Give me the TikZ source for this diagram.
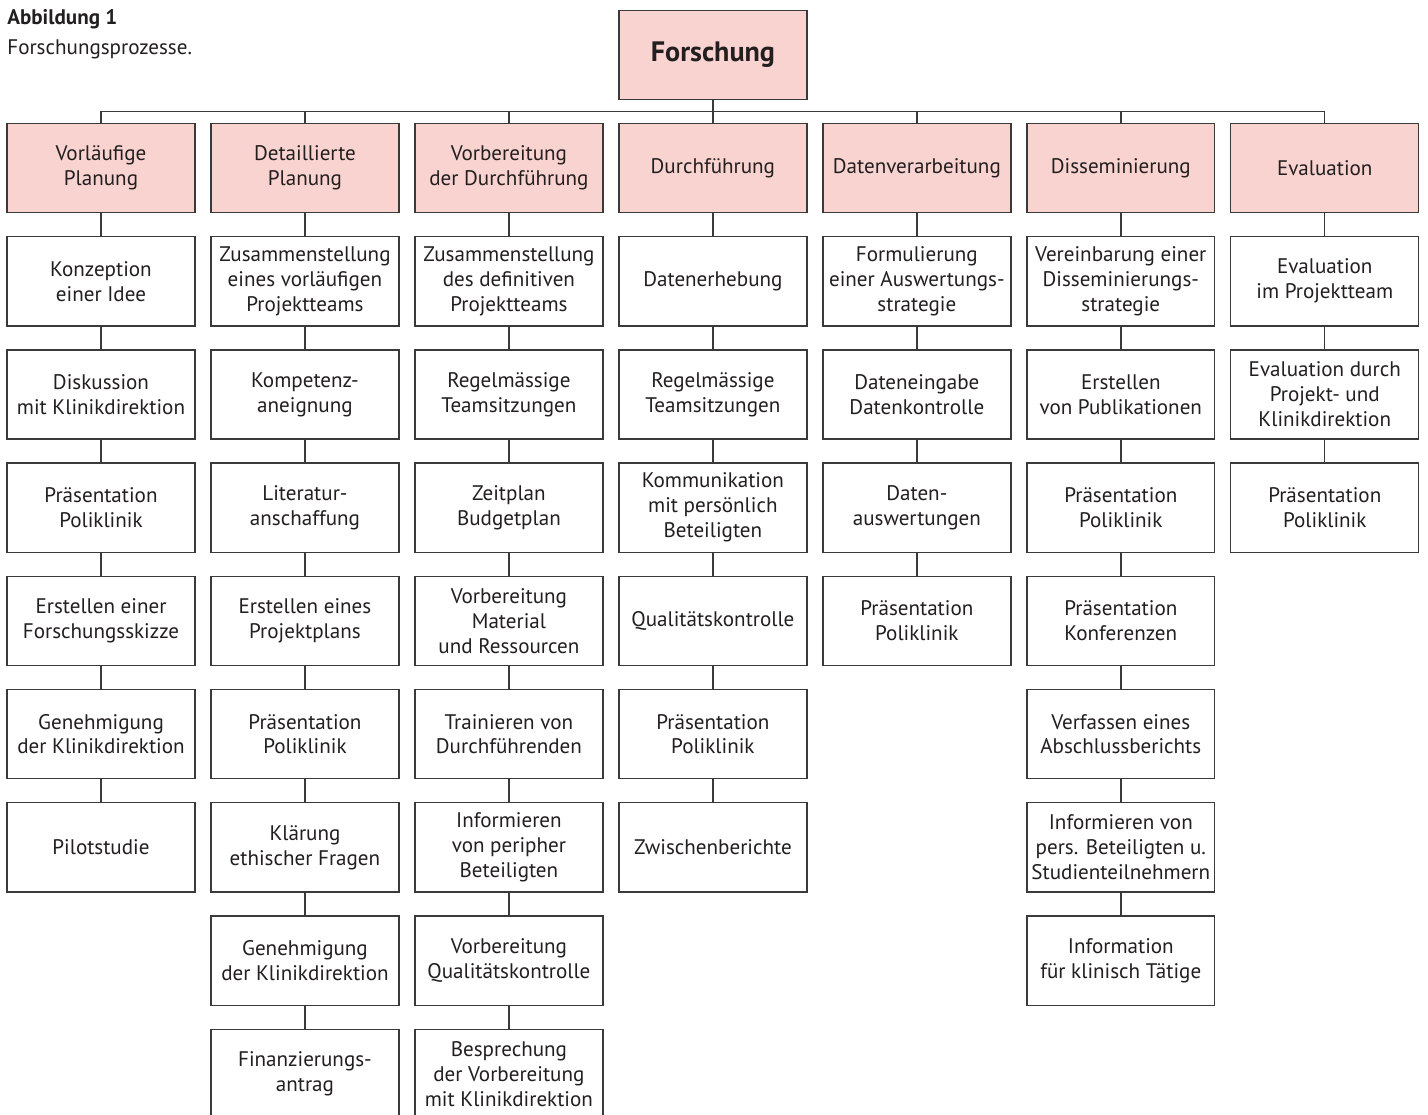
\documentclass[tikz,border=0pt]{standalone}
\usepackage{fontspec}
\setmainfont{PT Sans}
\usetikzlibrary{positioning}

\definecolor{rosa}{HTML}{F9D3D0}
\definecolor{strich}{HTML}{3A3A3A}
\definecolor{schrift}{HTML}{231F20}

\tikzset{
  stufe/.style={draw=strich, line width=0.8pt, fill=rosa, text=schrift,
    minimum width=3.76cm, minimum height=1.785cm, inner sep=2pt, outer sep=0pt,
    align=center, font=\fontsize{12}{14.2}\selectfont},
  schritt/.style={stufe, fill=white},
  ast/.style={draw=strich, line width=0.8pt}
}

\begin{document}
\begin{tikzpicture}[x=0.02cm, y=-0.02cm, node distance=0.48cm and 0.32cm]
  \useasboundingbox (0,0) rectangle (1428,1115);

  % Titel
  \node[anchor=base west, inner sep=0pt, text=schrift, font=\fontsize{12}{14}\selectfont\bfseries] (abb) at (7,25) {Abbildung 1};
  \node[anchor=base west, inner sep=0pt, text=schrift, font=\fontsize{12}{14}\selectfont] (unter) at (7,55) {Forschungsprozesse.};

  \node[stufe, font=\fontsize{16}{18}\selectfont\bfseries] (top) at (713,55) {Forschung};

  % Phasen
  \node[stufe] (vp0) at (101,168) {Vorläufige\\Planung};
  \node[stufe] (dp0) [right=of vp0] {Detaillierte\\Planung};
  \node[stufe] (vd0) [right=of dp0] {Vorbereitung\\der Durchführung};
  \node[stufe] (df0) [right=of vd0] {Durchführung};
  \node[stufe] (dv0) [right=of df0] {Datenverarbeitung};
  \node[stufe] (ds0) [right=of dv0] {Disseminierung};
  \node[stufe] (ev0) [right=of ds0] {Evaluation};

  % Vorläufige Planung
  \node[schritt] (vp1) [below=of vp0] {Konzeption\\einer Idee};
  \node[schritt] (vp2) [below=of vp1] {Diskussion\\mit Klinikdirektion};
  \node[schritt] (vp3) [below=of vp2] {Präsentation\\Poliklinik};
  \node[schritt] (vp4) [below=of vp3] {Erstellen einer\\Forschungsskizze};
  \node[schritt] (vp5) [below=of vp4] {Genehmigung\\der Klinikdirektion};
  \node[schritt] (vp6) [below=of vp5] {Pilotstudie};

  % Detaillierte Planung
  \node[schritt] (dp1) [below=of dp0] {Zusammenstellung\\eines vorläufigen\\Projektteams};
  \node[schritt] (dp2) [below=of dp1] {Kompetenz-\\aneignung};
  \node[schritt] (dp3) [below=of dp2] {Literatur-\\anschaffung};
  \node[schritt] (dp4) [below=of dp3] {Erstellen eines\\Projektplans};
  \node[schritt] (dp5) [below=of dp4] {Präsentation\\Poliklinik};
  \node[schritt] (dp6) [below=of dp5] {Klärung\\ethischer Fragen};
  \node[schritt] (dp7) [below=of dp6] {Genehmigung\\der Klinikdirektion};
  \node[schritt] (dp8) [below=of dp7] {Finanzierungs-\\antrag};

  % Vorbereitung der Durchführung
  \node[schritt] (vd1) [below=of vd0] {Zusammenstellung\\des definitiven\\Projektteams};
  \node[schritt] (vd2) [below=of vd1] {Regelmässige\\Teamsitzungen};
  \node[schritt] (vd3) [below=of vd2] {Zeitplan\\Budgetplan};
  \node[schritt] (vd4) [below=of vd3] {Vorbereitung\\Material\\und Ressourcen};
  \node[schritt] (vd5) [below=of vd4] {Trainieren von\\Durchführenden};
  \node[schritt] (vd6) [below=of vd5] {Informieren\\von peripher\\Beteiligten};
  \node[schritt] (vd7) [below=of vd6] {Vorbereitung\\Qualitätskontrolle};
  \node[schritt] (vd8) [below=of vd7] {Besprechung\\der Vorbereitung\\mit Klinikdirektion};

  % Durchführung
  \node[schritt] (df1) [below=of df0] {Datenerhebung};
  \node[schritt] (df2) [below=of df1] {Regelmässige\\Teamsitzungen};
  \node[schritt] (df3) [below=of df2] {Kommunikation\\mit persönlich\\Beteiligten};
  \node[schritt] (df4) [below=of df3] {Qualitätskontrolle};
  \node[schritt] (df5) [below=of df4] {Präsentation\\Poliklinik};
  \node[schritt] (df6) [below=of df5] {Zwischenberichte};

  % Datenverarbeitung
  \node[schritt] (dv1) [below=of dv0] {Formulierung\\einer Auswertungs-\\strategie};
  \node[schritt] (dv2) [below=of dv1] {Dateneingabe\\Datenkontrolle};
  \node[schritt] (dv3) [below=of dv2] {Daten-\\auswertungen};
  \node[schritt] (dv4) [below=of dv3] {Präsentation\\Poliklinik};

  % Disseminierung
  \node[schritt] (ds1) [below=of ds0] {Vereinbarung einer\\Disseminierungs-\\strategie};
  \node[schritt] (ds2) [below=of ds1] {Erstellen\\von Publikationen};
  \node[schritt] (ds3) [below=of ds2] {Präsentation\\Poliklinik};
  \node[schritt] (ds4) [below=of ds3] {Präsentation\\Konferenzen};
  \node[schritt] (ds5) [below=of ds4] {Verfassen eines\\Abschlussberichts};
  \node[schritt] (ds6) [below=of ds5] {Informieren von\\pers. Beteiligten u.\\Studienteilnehmern};
  \node[schritt] (ds7) [below=of ds6] {Information\\für klinisch Tätige};

  % Evaluation
  \node[schritt] (ev1) [below=of ev0] {Evaluation\\im Projektteam};
  \node[schritt] (ev2) [below=of ev1] {Evaluation durch\\Projekt- und\\Klinikdirektion};
  \node[schritt] (ev3) [below=of ev2] {Präsentation\\Poliklinik};

  % Verbindungen
  \draw[ast] (top.south) -- ++(0,12) coordinate (bus);
  \foreach \c in {vp,dp,vd,df,dv,ds,ev}
    \draw[ast] (\c0.north) |- (bus);
  \foreach \c/\n in {vp/6,dp/8,vd/8,df/6,dv/4,ds/7,ev/3}
    \foreach \i in {1,...,\n} {
      \pgfmathtruncatemacro\j{\i-1}
      \draw[ast] (\c\j.south) -- (\c\i.north);
    }
\end{tikzpicture}
\end{document}
